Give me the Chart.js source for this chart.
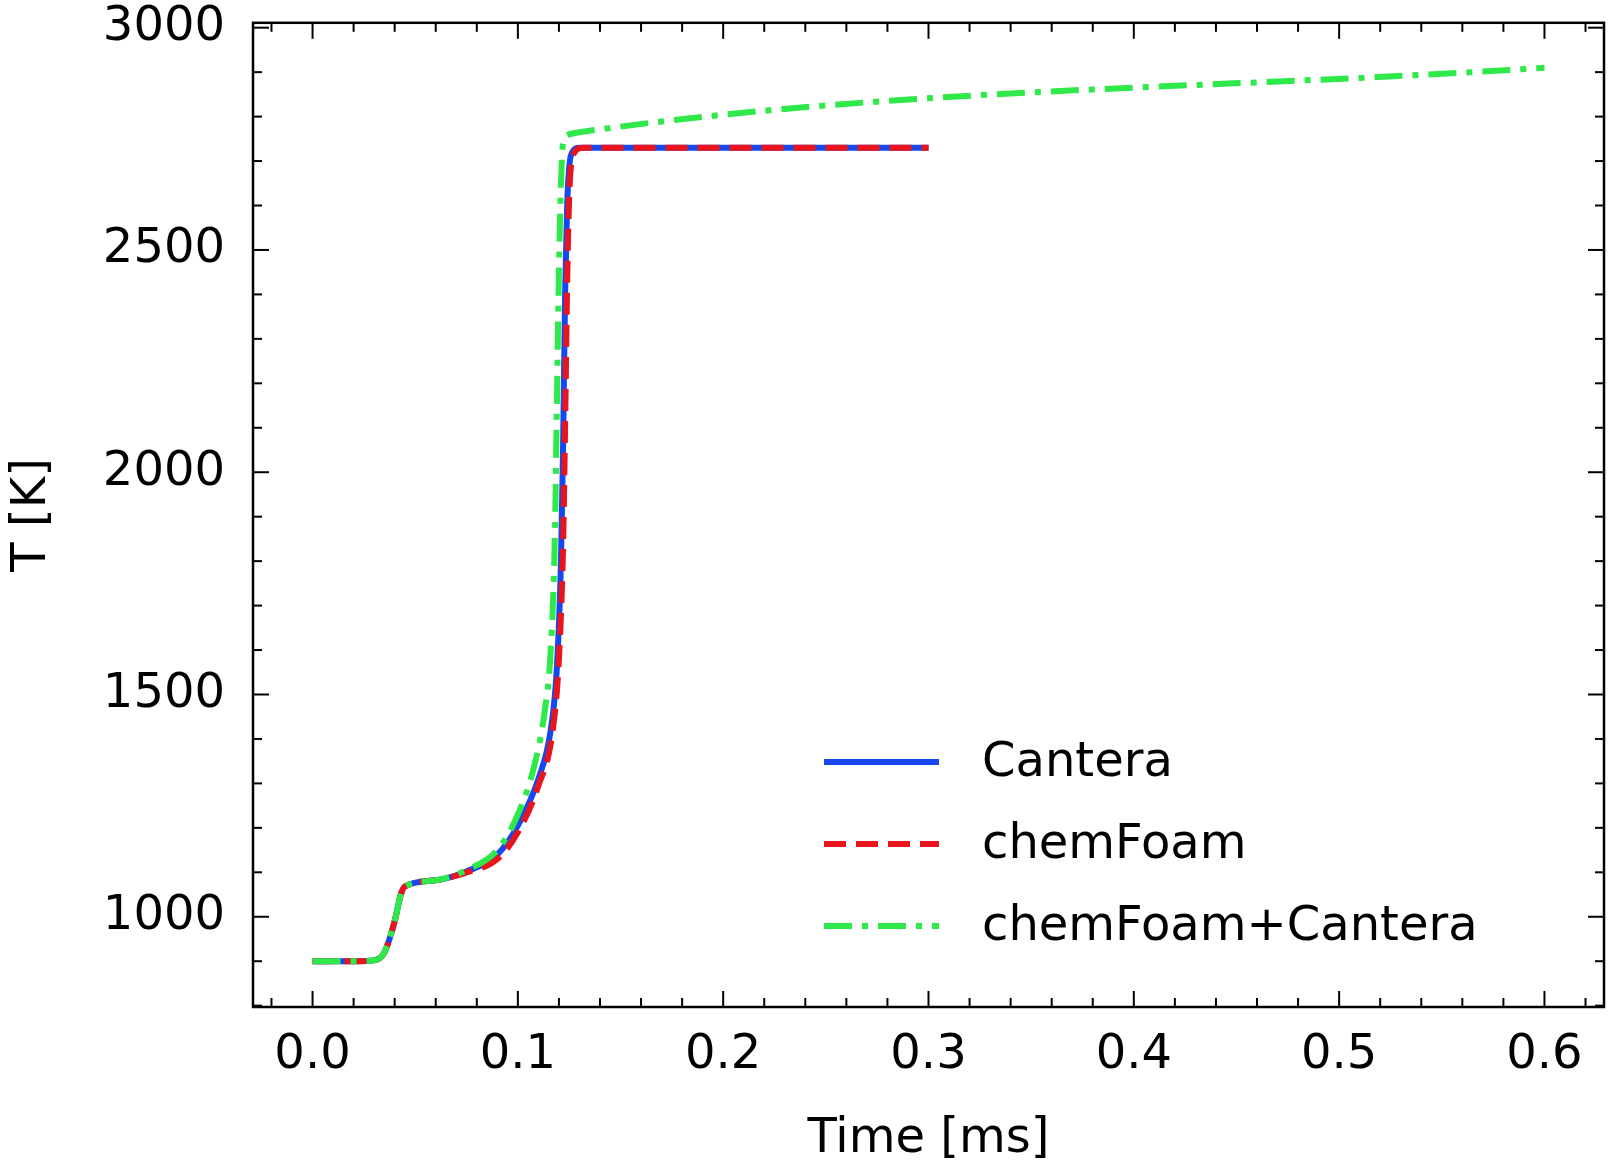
<!DOCTYPE html>
<html><head><meta charset="utf-8">
<script src="https://cdn.jsdelivr.net/npm/chart.js@4"></script>
<style>html,body{margin:0;padding:0;background:#fff;overflow:hidden}#c{display:block;margin-top:-34px}</style>
</head><body><canvas id="c" width="1609" height="1206"></canvas>
<script>
// Ignition temperature traces
const canteraT = [0, 0.02, 0.03, 0.035, 0.04, 0.043, 0.045, 0.06, 0.075, 0.09, 0.1, 0.11, 0.116, 0.119, 0.121, 0.122, 0.123, 0.124, 0.126, 0.13, 0.3];
const canteraY = [900, 900, 902, 920, 990, 1050, 1068, 1082, 1102, 1140, 1205, 1310, 1420, 1560, 1800, 2050, 2400, 2600, 2715, 2730, 2730];
const foamT = [0, 0.02, 0.03, 0.035, 0.04, 0.043, 0.045, 0.06, 0.075, 0.09, 0.1, 0.11, 0.117, 0.12, 0.122, 0.123, 0.124, 0.125, 0.127, 0.132, 0.3];
const foamY = [900, 900, 902, 920, 990, 1050, 1068, 1082, 1100, 1130, 1190, 1295, 1420, 1580, 1830, 2100, 2420, 2620, 2715, 2730, 2730];
const mixT = [0, 0.02, 0.03, 0.035, 0.04, 0.043, 0.045, 0.06, 0.075, 0.09, 0.1, 0.108, 0.113, 0.116, 0.118, 0.119, 0.12, 0.121, 0.122, 0.125, 0.13, 0.6];
const mixY = [900, 900, 902, 920, 990, 1050, 1068, 1082, 1105, 1150, 1230, 1340, 1460, 1600, 1850, 2150, 2450, 2650, 2740, 2760, 2765, 2910];
const seriesNames = ["Cantera", "chemFoam", "chemFoam+Cantera"];
const seriesColors = ["#1747f0", "#e8141e", "#2fe84a"];
const xTicks = [0, 0.1, 0.2, 0.3, 0.4, 0.5, 0.6];
const yTicks = [1000, 1500, 2000, 2500, 3000];

const pts = (xs, ys) => xs.map((x, i) => ({ x, y: ys[i] }));
const FONT = "DejaVu Sans";
const DASHES = [[], [22, 10], [28, 10, 6, 10]];

const inwardTicks = {
  id: "inwardTicks",
  afterDraw(chart) {
    const { ctx, chartArea: a, scales: { x, y } } = chart;
    ctx.save();
    ctx.strokeStyle = "#000";
    ctx.lineWidth = 2;
    const tick = (x1, y1, x2, y2) => { ctx.beginPath(); ctx.moveTo(x1, y1); ctx.lineTo(x2, y2); ctx.stroke(); };
    for (let v = -0.02; v <= 0.621; v += 0.02) {
      const p = x.getPixelForValue(v);
      const major = Math.abs(v * 10 - Math.round(v * 10)) < 1e-6;
      const L = major ? 16 : 9;
      tick(p, a.bottom, p, a.bottom - L);
      tick(p, a.top, p, a.top + L);
    }
    for (let v = 800; v <= 3000; v += 100) {
      const p = y.getPixelForValue(v);
      const L = v % 500 === 0 ? 16 : 9;
      tick(a.left, p, a.left + L, p);
      tick(a.right, p, a.right - L, p);
    }
    ctx.lineWidth = 2.5;
    ctx.strokeRect(a.left, a.top, a.right - a.left, a.bottom - a.top);
    // legend
    seriesNames.forEach((n, i) => {
      const yy = 796 + i * 82;
      ctx.strokeStyle = seriesColors[i];
      ctx.lineWidth = 6;
      ctx.setLineDash(DASHES[i]);
      tick(824, yy, 939, yy);
      ctx.setLineDash([]);
      ctx.fillStyle = "#000";
      ctx.font = `48px "${FONT}"`;
      ctx.textBaseline = "middle";
      ctx.fillText(n, 982, yy + 2);
    });
    ctx.restore();
  },
};

const ds = (data, i) => ({
  label: seriesNames[i], data, showLine: true, pointRadius: 0,
  borderColor: seriesColors[i], backgroundColor: seriesColors[i],
  borderWidth: 6, borderDash: DASHES[i], cubicInterpolationMode: "monotone",
});

new Chart(document.getElementById("c"), {
  type: "scatter",
  data: {
    datasets: [
      ds(pts(mixT, mixY), 2),
      ds(pts(foamT, foamY), 1),
      ds(pts(canteraT, canteraY), 0),
    ],
  },
  options: {
    responsive: false, animation: false, devicePixelRatio: 1,
    layout: { padding: { top: 19, right: 5, left: 0, bottom: 0 } },
    plugins: { legend: { display: false }, tooltip: { enabled: false } },
    scales: {
      x: {
        type: "linear", min: -0.029, max: 0.629,
        afterFit: (s) => { s.height = 165; },
        afterBuildTicks: (s) => { s.ticks = xTicks.map((v) => ({ value: v })); },
        grid: { display: false, drawTicks: false }, border: { display: false },
        ticks: { padding: 20, color: "#000", font: { family: FONT, size: 48 }, callback: (v) => v.toFixed(1) },
        title: { display: true, text: "Time [ms]", color: "#000", font: { family: FONT, size: 48 }, padding: { top: 6 } },
      },
      y: {
        min: 797, max: 3011,
        afterFit: (s) => { s.width = 253; },
        afterBuildTicks: (s) => { s.ticks = yTicks.map((v) => ({ value: v })); },
        grid: { display: false, drawTicks: false }, border: { display: false },
        ticks: { padding: 28, color: "#000", font: { family: FONT, size: 48 }, callback: (v) => String(v) },
        title: { display: true, text: "T [K]", color: "#000", font: { family: FONT, size: 48 }, padding: { bottom: 6 } },
      },
    },
  },
  plugins: [inwardTicks],
});
</script></body></html>
